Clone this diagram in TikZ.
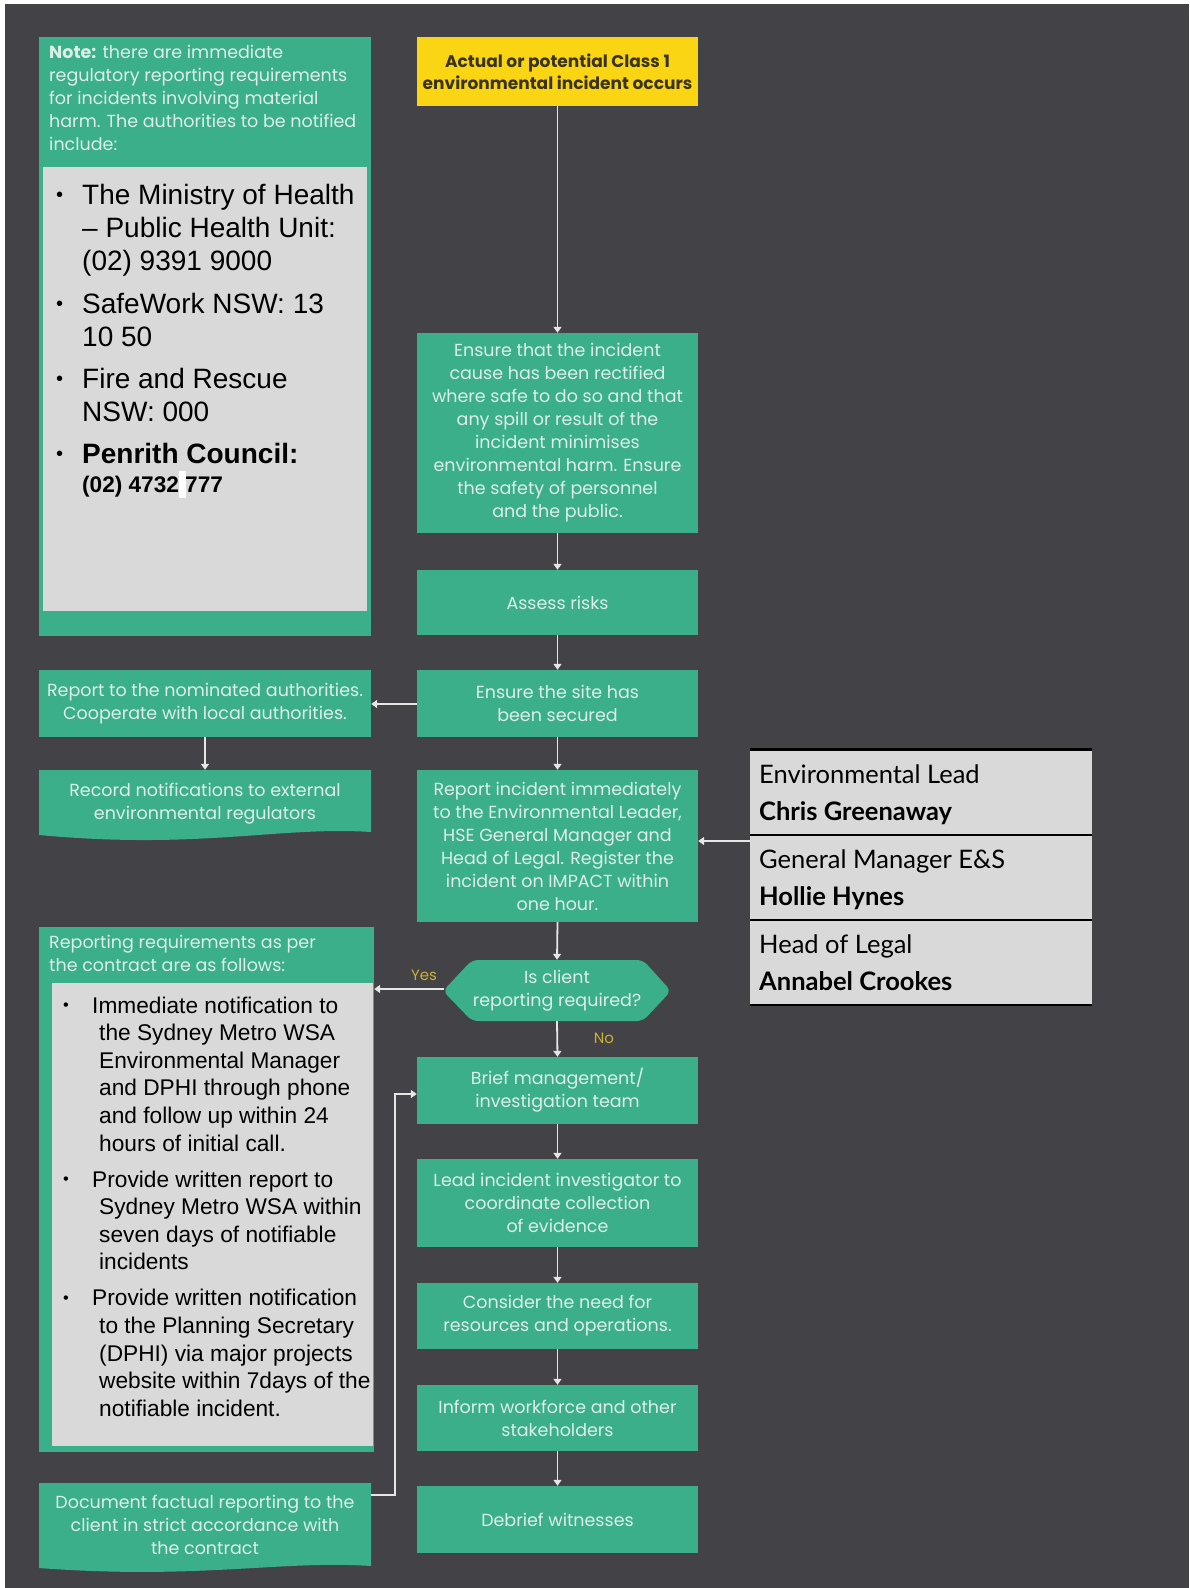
\documentclass[tikz,border=0pt]{standalone}
\usepackage{fontspec}
\setmainfont{Liberation Sans}
\newfontfamily\gfont{Poppins}
\newfontfamily\lfont{Lato}
\usetikzlibrary{arrows.meta}
\definecolor{bgc}{HTML}{434247}
\definecolor{gfill}{HTML}{3BAE8A}
\definecolor{gtext}{HTML}{DDEFE8}
\definecolor{ylw}{HTML}{FAD514}
\definecolor{ytext}{HTML}{3A3417}
\definecolor{lgray}{HTML}{D9D9D9}
\definecolor{arrc}{HTML}{E6E6E6}
\definecolor{lbl}{HTML}{C9B236}
\newcommand{\smallbul}{\raisebox{0.1em}{\scalebox{0.72}{\textbullet}}}
\tikzset{
  gbox/.style={fill=gfill, draw=none, inner sep=0pt, align=center, text=gtext,
    font=\gfont\fontsize{17.5}{23}\selectfont},
  gtxt/.style={inner sep=0pt, align=center, text=gtext, font=\gfont\fontsize{17.5}{23}\selectfont},
  arr/.style={draw=arrc, line width=1.8pt, -{Triangle[width=8pt,length=6pt]}},
  lstA/.style={anchor=base west, inner sep=0pt, font=\fontsize{28}{33.3}\selectfont},
  lstB/.style={anchor=base west, inner sep=0pt, font=\fontsize{22.7}{27.6}\selectfont},
  role/.style={anchor=base west, inner sep=0pt, font=\lfont\fontsize{25.5}{28}\selectfont},
  pname/.style={anchor=base west, inner sep=0pt, font=\lfont\bfseries\fontsize{25.5}{28}\selectfont},
  yn/.style={inner sep=0pt, text=lbl, font=\gfont\fontsize{15}{16}\selectfont}
}
\begin{document}
\begin{tikzpicture}[x=1pt,y=-1pt]
\useasboundingbox (0,0) rectangle (1189,1588);
\fill[white] (0,0) rectangle (1189,1588);
\fill[bgc] (5,4) rectangle (1189,1588);

% ---------- main column ----------
\node[gbox, minimum width=281pt, minimum height=69pt, fill=ylw, text=ytext,
  font=\gfont\bfseries\fontsize{17}{22}\selectfont] (start) at (557.5,71.5)
  {Actual or potential Class 1\\environmental incident occurs};
\node[gbox, minimum width=281pt, minimum height=200pt] (ensure) at (557.5,433)
  {Ensure that the incident\\cause has been rectified\\where safe to do so and that\\any spill or result of the\\incident minimises\\environmental harm. Ensure\\the safety of personnel\\and the public.};
\node[gbox, minimum width=281pt, minimum height=65pt] (assess) at (557.5,602.5) {Assess risks};
\node[gbox, minimum width=281pt, minimum height=67pt] (site) at (557.5,703.5) {Ensure the site has\\been secured};
\node[gbox, minimum width=281pt, minimum height=152pt] (report) at (557.5,846)
  {Report incident immediately\\to the Environmental Leader,\\HSE General Manager and\\Head of Legal. Register the\\incident on IMPACT within\\one hour.};
\fill[gfill, rounded corners=6pt] (443,991) -- (472,960) -- (643,960) -- (671,991) -- (643,1021) -- (472,1021) -- cycle;
\node[gtxt, minimum width=228pt, minimum height=61pt] (decision) at (557,990.5) {Is client\\reporting required?};
\coordinate (decL) at (444,989);
\node[gbox, minimum width=281pt, minimum height=67pt] (brief) at (557.5,1090.5) {Brief management/\\investigation team};
\node[gbox, minimum width=281pt, minimum height=88pt] (lead) at (557.5,1203) {Lead incident investigator to\\coordinate collection\\of evidence};
\node[gbox, minimum width=281pt, minimum height=66pt] (consider) at (557.5,1316) {Consider the need for\\resources and operations.};
\node[gbox, minimum width=281pt, minimum height=66pt] (inform) at (557.5,1418) {Inform workforce and other\\stakeholders};
\node[gbox, minimum width=281pt, minimum height=67pt] (debrief) at (557.5,1519.5) {Debrief witnesses};

% ---------- left column ----------
\node[gbox, minimum width=332pt, minimum height=599pt] (note) at (205,336.5) {};
\node[anchor=base west, inner sep=0pt, align=left, text=gtext, font=\gfont\fontsize{17.5}{23}\selectfont]
  (notehead) at (49,150.5) {\textbf{Note:} there are immediate\\regulatory reporting requirements\\for incidents involving material\\harm. The authorities to be notified\\include:};
\fill[lgray] (43,167) rectangle (367,611);
\node[lstA] (authlist) at (56,204) {\begin{tabular}[t]{@{}p{26pt}@{}l@{}}
  \smallbul & The Ministry of Health\\
   & -- Public Health Unit:\\
   & (02) 9391 9000\\[9.5pt]
  \smallbul & SafeWork NSW: 13\\
   & 10 50\\[8.5pt]
  \smallbul & Fire and Rescue\\
   & NSW: 000\\[8.5pt]
  \smallbul & \textbf{Penrith Council:}\\[-4.3pt]
   & \fontsize{22.6}{27}\selectfont\textbf{(02) 4732 777}
\end{tabular}};
\fill[white] (179,471) rectangle (186,498);

\node[gbox, minimum width=332pt, minimum height=67pt] (nominated) at (205,703.5)
  {Report to the nominated authorities.\\Cooperate with local authorities.};
\fill[gfill] (39,770) -- (371,770) -- (371,832) .. controls (280,826) and (200,850) .. (39,835) -- cycle;
\node[gtxt, minimum width=332pt, minimum height=68pt] (record) at (205,804)
  {Record notifications to external\\environmental regulators};

\node[gbox, minimum width=335pt, minimum height=525pt] (contract) at (206.5,1189.5) {};
\node[anchor=base west, inner sep=0pt, align=left, text=gtext, font=\gfont\fontsize{17.5}{23}\selectfont]
  (contracthead) at (49,971.5) {Reporting requirements as per\\the contract are as follows:};
\fill[lgray] (52,983) rectangle (373,1446);
\node[lstB] (contractlist) at (63,1013) {\begin{tabular}[t]{@{}p{29pt}@{}l@{}}
  \smallbul & Immediate notification to\\
   & \hspace*{7pt}the Sydney Metro WSA\\
   & \hspace*{7pt}Environmental Manager\\
   & \hspace*{7pt}and DPHI through phone\\
   & \hspace*{7pt}and follow up within 24\\
   & \hspace*{7pt}hours of initial call.\\[8.4pt]
  \smallbul & Provide written report to\\
   & \hspace*{7pt}Sydney Metro WSA within\\
   & \hspace*{7pt}seven days of notifiable\\
   & \hspace*{7pt}incidents\\[8.4pt]
  \smallbul & Provide written notification\\
   & \hspace*{7pt}to the Planning Secretary\\
   & \hspace*{7pt}(DPHI) via major projects\\
   & \hspace*{7pt}website within 7days of the\\
   & \hspace*{7pt}notifiable incident.
\end{tabular}};

\fill[gfill] (39,1483) -- (371,1483) -- (371,1566) .. controls (280,1560) and (200,1580) .. (39,1568) -- cycle;
\node[gtxt, minimum width=332pt, minimum height=84pt] (document) at (205,1525)
  {Document factual reporting to the\\client in strict accordance with\\the contract};

% ---------- contacts table ----------
\node[fill=lgray, minimum width=342pt, minimum height=255pt, inner sep=0pt] (contacts) at (921,877.5) {};
\draw[black, line width=3pt] (contacts.north west) -- (contacts.north east);
\draw[black, line width=2.5pt] (contacts.west |- 0,835) -- (contacts.east |- 0,835);
\draw[black, line width=2.5pt] (contacts.west |- 0,920) -- (contacts.east |- 0,920);
\draw[black, line width=2.5pt] (contacts.south west) -- (contacts.south east);
\node[role] (r1) at (759,783) {Environmental Lead};
\node[pname] (n1) at (759,820) {Chris Greenaway};
\node[role] (r2) at (759,868) {General Manager E\&S};
\node[pname] (n2) at (759,905) {Hollie Hynes};
\node[role] (r3) at (759,953) {Head of Legal};
\node[pname] (n3) at (759,990) {Annabel Crookes};

% ---------- connectors ----------
\draw[arr] (start.south) -- (ensure.north);
\draw[arr] (ensure.south) -- (assess.north);
\draw[arr] (assess.south) -- (site.north);
\draw[arr] (site.south) -- (report.north);
\draw[arr] (site.west |- 0,704) -- (nominated.east |- 0,704);
\draw[arr] (nominated.south) -- (record.north);
\draw[arr] (report.south) -- (decision.north);
\draw[arr] (contacts.west |- 0,841) -- (report.east |- 0,841);
\draw[arr] (decL) -- (contract.east |- decL);
\draw[arr] (decision.south) -- (brief.north);
\draw[arr] (brief.south) -- (lead.north);
\draw[arr] (lead.south) -- (consider.north);
\draw[arr] (consider.south) -- (inform.north);
\draw[arr] (inform.south) -- (debrief.north);
\draw[arr] ([yshift=-12pt]document.north east) -- ++(24,0) |- ([yshift=-3.5pt]brief.west);

\node[yn] (yes) at (424,975) {Yes};
\node[yn] (no) at (604,1038) {No};
\end{tikzpicture}
\end{document}
